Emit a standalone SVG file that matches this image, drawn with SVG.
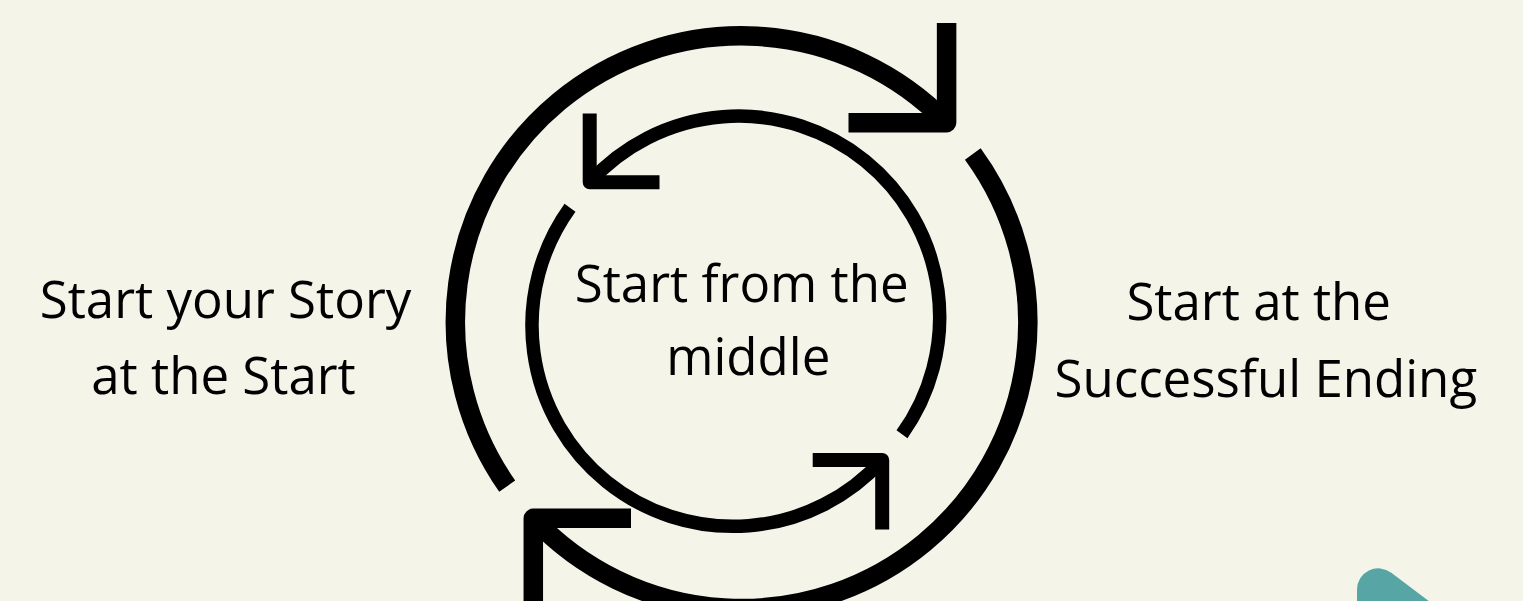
<svg xmlns="http://www.w3.org/2000/svg" width="1523" height="601" viewBox="0 0 1523 601">
  <style>
    .lbl { font-family: "Open Sans", "Noto Sans", "DejaVu Sans", sans-serif; font-size: 51px; fill: #000; text-anchor: middle; }
    .outer { fill: none; stroke: #000; stroke-width: 19.5; stroke-linecap: butt; }
    .inner { fill: none; stroke: #000; stroke-width: 13.5; stroke-linecap: butt; }
    .headO { fill: none; stroke: #000; stroke-width: 19.5; stroke-linecap: butt; stroke-linejoin: round; }
    .headI { fill: none; stroke: #000; stroke-width: 14; stroke-linecap: butt; stroke-linejoin: round; }
  </style>
  <rect x="0" y="0" width="1523" height="601" fill="#f4f4e9"/>

  <g id="connectors">
    <!-- outer circle arcs -->
    <path class="outer" d="M507.2,486.1 A286,286 0 0 1 946.6,122.7"/>
    <polyline class="headO" points="848.5,122.7 946.6,122.7 946.6,23"/>
    <path class="outer" d="M972.8,153.9 A286,286 0 0 1 533.3,518.3"/>
    <polyline class="headO" points="631,518.3 533.3,518.3 533.3,615"/>
    <!-- inner circle arcs -->
    <path class="inner" d="M902.0,434.3 A201,201 0 0 0 589.7,182.2"/>
    <polyline class="headI" points="589.7,113.5 589.7,182.2 659.5,182.2"/>
    <path class="inner" d="M570.0,207.7 A201,201 0 0 0 882.2,460"/>
    <polyline class="headI" points="812.7,460 882.2,460 882.2,529.5"/>
  </g>

  <g id="node-left">
    <text class="lbl" x="225.5" y="318">Start your Story</text>
    <text class="lbl" x="223.5" y="393.5">at the Start</text>
  </g>
  <g id="node-center">
    <text class="lbl" x="741.7" y="302">Start from the</text>
    <text class="lbl" x="748.3" y="375">middle</text>
  </g>
  <g id="node-right">
    <text class="lbl" x="1258.7" y="320">Start at the</text>
    <text class="lbl" x="1265.8" y="396.7">Successful Ending</text>
  </g>

  <g id="teal-shape">
    <path d="M1357,605 L1357,589.6 A21.3,21.3 0 0 1 1391.3,572.7 L1434,605 Z" fill="#57a5a5"/>
  </g>
</svg>
